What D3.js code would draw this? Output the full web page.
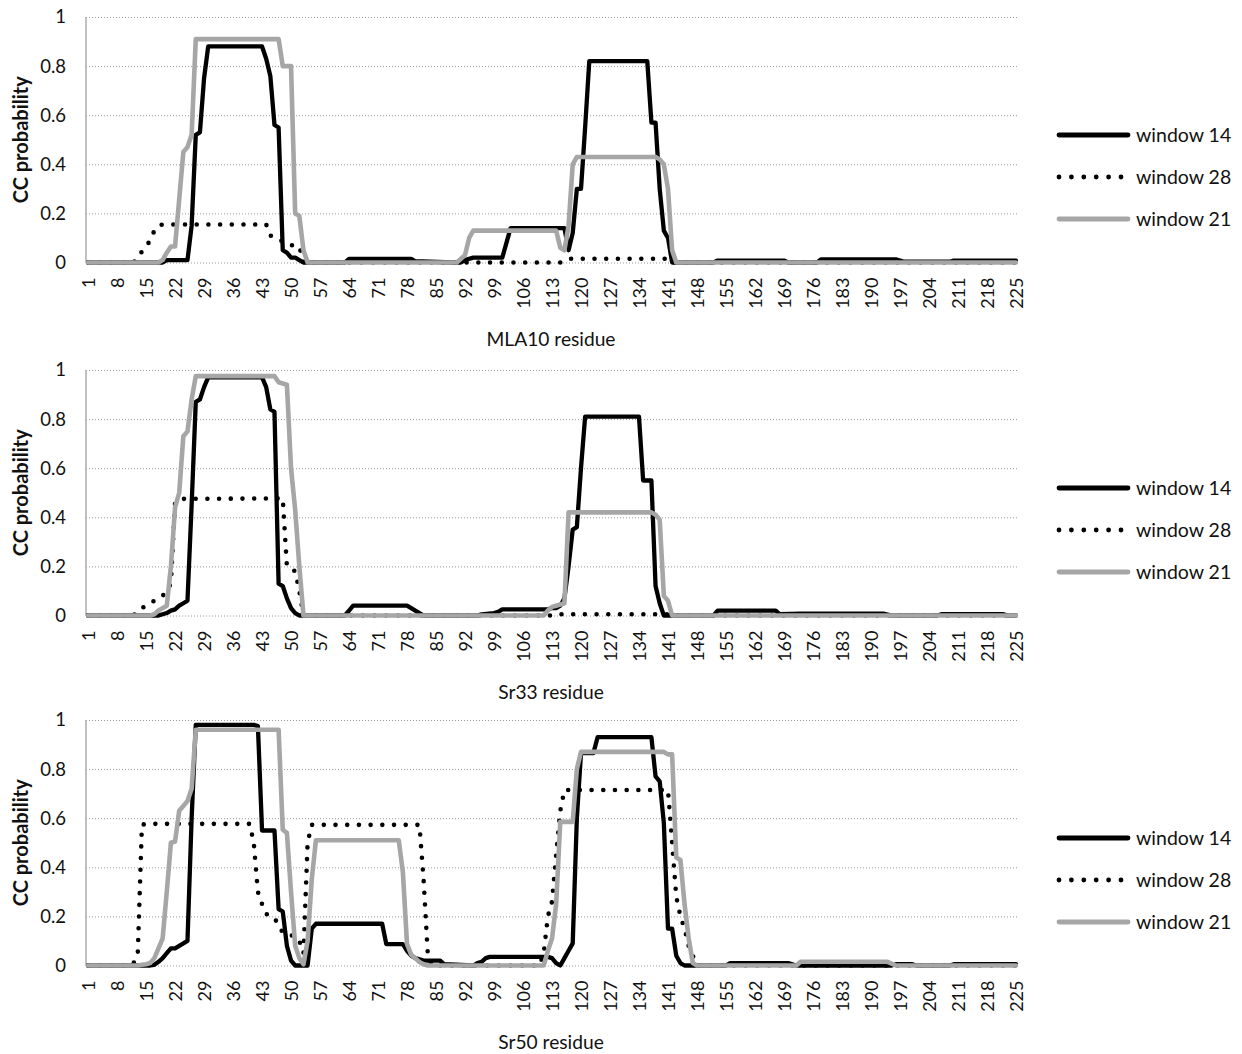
<!DOCTYPE html>
<html><head><meta charset="utf-8">
<script src="https://cdn.jsdelivr.net/npm/d3@7"></script>
<style>body{margin:0;background:#fff}svg{display:block}</style>
</head><body>
<svg id="c" width="1242" height="1054"></svg>
<script>
// ---------- data ----------
const categories = d3.range(1, 226); // residues 1..225
const tickLabels = [1,8,15,22,29,36,43,50,57,64,71,78,85,92,99,106,113,120,127,134,141,148,155,162,169,176,183,190,197,204,211,218,225];
const yTicks = [0,0.2,0.4,0.6,0.8,1];
const panelTitles = ["MLA10 residue","Sr33 residue","Sr50 residue"];
const seriesNames = ["window 14","window 28","window 21"];
const yTitle = "CC probability";

// series as [residue, probability] vertices
const mla10_w14 = [[1,0],[19,0],[20,0.01],[25,0.01],[26,0.15],[27,0.52],[28,0.53],[29,0.75],[30,0.88],[43,0.88],[44,0.83],[45,0.76],[46,0.56],[47,0.55],[48,0.05],[49,0.04],[50,0.02],[51,0.02],[52,0.01],[53,0],[63,0],[64,0.015],[79,0.015],[80,0.005],[89,0],[91,0],[92,0.01],[94,0.02],[101,0.02],[102,0.08],[103,0.14],[116,0.14],[117,0.05],[118,0.12],[119,0.3],[120,0.3],[121,0.55],[122,0.82],[136,0.82],[137,0.57],[138,0.57],[139,0.3],[140,0.13],[141,0.1],[142,0],[152,0],[153,0.008],[169,0.008],[170,0],[177,0],[178,0.013],[196,0.013],[198,0.003],[209,0.003],[210,0.008],[225,0.008]];
const mla10_w28 = [[1,0],[12,0],[13,0.02],[14,0.045],[15,0.065],[16,0.09],[17,0.13],[18,0.15],[19,0.155],[44,0.155],[45,0.11],[46,0.1],[47,0.095],[48,0.085],[49,0.075],[50,0.07],[51,0.07],[52,0.065],[53,0],[115,0],[116,0.01],[117,0.015],[141,0.015],[142,0],[225,0]];
const mla10_w21 = [[1,0],[18,0],[19,0.01],[20,0.04],[21,0.065],[22,0.065],[24,0.45],[25,0.47],[26,0.52],[27,0.91],[47,0.91],[48,0.8],[50,0.8],[51,0.2],[52,0.19],[53,0.05],[54,0],[90,0],[92,0.03],[93,0.1],[94,0.13],[114,0.13],[115,0.06],[116,0.05],[117,0.15],[118,0.4],[119,0.43],[138,0.43],[139,0.42],[140,0.4],[141,0.3],[142,0.05],[143,0],[225,0]];

const sr33_w14 = [[1,0],[18,0],[19,0.005],[20,0.01],[21,0.02],[22,0.025],[23,0.04],[24,0.05],[25,0.06],[26,0.45],[27,0.87],[28,0.88],[29,0.93],[30,0.97],[43,0.97],[44,0.93],[45,0.84],[46,0.83],[47,0.13],[48,0.12],[49,0.07],[50,0.03],[51,0.01],[52,0],[63,0],[64,0.02],[65,0.04],[78,0.04],[79,0.03],[80,0.02],[81,0.01],[82,0],[95,0],[96,0.005],[99,0.01],[100,0.015],[101,0.025],[112,0.025],[113,0.03],[114,0.03],[115,0.04],[116,0.07],[117,0.2],[118,0.35],[119,0.36],[120,0.6],[121,0.81],[134,0.81],[135,0.55],[137,0.55],[138,0.12],[139,0.05],[140,0],[152,0],[153,0.02],[167,0.02],[168,0.005],[173,0.008],[193,0.008],[195,0],[206,0],[207,0.005],[222,0.005],[223,0],[225,0]];
const sr33_w28 = [[1,0],[12,0],[13,0.02],[14,0.03],[15,0.04],[16,0.05],[17,0.06],[18,0.07],[19,0.08],[20,0.1],[21,0.13],[22,0.46],[23,0.475],[48,0.477],[49,0.2],[50,0.19],[51,0.18],[52,0.1],[53,0],[113,0],[114,0.005],[141,0.005],[142,0],[225,0]];
const sr33_w21 = [[1,0],[16,0],[17,0.005],[18,0.02],[19,0.03],[20,0.04],[21,0.2],[22,0.44],[23,0.5],[24,0.73],[25,0.75],[26,0.88],[27,0.975],[46,0.975],[47,0.95],[49,0.94],[50,0.6],[51,0.43],[52,0.2],[53,0],[111,0],[112,0.02],[113,0.035],[114,0.04],[115,0.045],[116,0.05],[117,0.42],[137,0.42],[138,0.41],[139,0.39],[140,0.08],[141,0.06],[142,0],[225,0]];

const sr50_w14 = [[1,0],[16,0],[17,0.003],[18,0.015],[19,0.03],[20,0.05],[21,0.07],[22,0.07],[23,0.08],[24,0.09],[25,0.1],[26,0.6],[27,0.98],[41,0.98],[42,0.975],[43,0.55],[46,0.55],[47,0.23],[48,0.22],[49,0.08],[50,0.02],[51,0],[54,0],[55,0.15],[56,0.17],[72,0.17],[73,0.087],[77,0.087],[78,0.06],[79,0.04],[80,0.03],[81,0.025],[82,0.02],[86,0.02],[87,0.005],[94,0],[95,0.01],[96,0.015],[97,0.03],[98,0.035],[112,0.035],[113,0.03],[114,0.01],[115,0],[116,0.03],[117,0.06],[118,0.09],[119,0.6],[120,0.865],[123,0.865],[124,0.93],[137,0.93],[138,0.77],[139,0.75],[140,0.58],[141,0.15],[142,0.15],[143,0.04],[144,0.01],[145,0],[155,0],[156,0.01],[170,0.01],[172,0],[195,0],[196,0.005],[200,0.005],[201,0],[209,0],[210,0.005],[225,0.005]];
const sr50_w28 = [[1,0],[11,0],[12,0.01],[13,0.05],[14,0.573],[15,0.577],[40,0.577],[41,0.5],[42,0.3],[43,0.25],[44,0.21],[46,0.195],[47,0.16],[48,0.135],[49,0.125],[51,0.12],[52,0.1],[53,0.05],[54,0.5],[55,0.573],[81,0.573],[82,0.35],[83,0.05],[84,0],[110,0],[111,0.05],[112,0.2],[113,0.26],[114,0.45],[115,0.63],[116,0.715],[141,0.715],[142,0.5],[143,0.28],[144,0.2],[145,0.15],[146,0.08],[147,0.04],[148,0],[225,0]];
const sr50_w21 = [[1,0],[13,0],[14,0.003],[15,0.005],[16,0.01],[17,0.03],[18,0.07],[19,0.11],[20,0.3],[21,0.5],[22,0.505],[23,0.63],[24,0.65],[25,0.67],[26,0.72],[27,0.96],[47,0.96],[48,0.553],[49,0.54],[50,0.3],[51,0.08],[52,0.03],[53,0.005],[54,0.1],[55,0.35],[56,0.51],[76,0.51],[77,0.38],[78,0.087],[79,0.044],[80,0.03],[81,0.014],[82,0.005],[83,0],[111,0],[112,0.06],[113,0.11],[114,0.25],[115,0.585],[118,0.585],[119,0.8],[120,0.87],[140,0.87],[141,0.86],[142,0.86],[143,0.44],[144,0.43],[145,0.25],[146,0.11],[147,0.01],[148,0],[172,0],[173,0.015],[194,0.015],[196,0],[225,0]];

// ---------- layout ----------
const FONT = "Lato, 'Open Sans', sans-serif";
const plotLeft = 86, plotRight = 1018, plotH = 245.5;
const panelTops = [17, 370, 720];
const panels = [
  {title: panelTitles[0], series: [mla10_w14, mla10_w28, mla10_w21]},
  {title: panelTitles[1], series: [sr33_w14, sr33_w28, sr33_w21]},
  {title: panelTitles[2], series: [sr50_w14, sr50_w28, sr50_w21]}
];
const styles = [
  {stroke: "#000000", width: 4.3, dash: null, cap: "round"},
  {stroke: "#000000", width: 4.6, dash: "0 11.7", cap: "round"},
  {stroke: "#a6a6a6", width: 4.6, dash: null, cap: "round"}
];

const svg = d3.select("#c");
const x = d3.scalePoint().domain(categories).range([plotLeft, plotRight]).padding(0.5);

panels.forEach((p, pi) => {
  const top = panelTops[pi];
  const y = d3.scaleLinear().domain([0, 1]).range([top + plotH, top]);
  const g = svg.append("g");

  // gridlines
  const grid = g.append("g").attr("transform", `translate(${plotLeft},0)`)
    .call(d3.axisLeft(y).tickValues(yTicks).tickSize(-(plotRight - plotLeft)).tickFormat(""));
  grid.select(".domain").remove();
  grid.selectAll(".tick line").attr("stroke", "#9a9a9a").attr("stroke-width", 1).attr("stroke-dasharray", "1 2");

  // left axis line
  g.append("line").attr("x1", plotLeft).attr("x2", plotLeft)
    .attr("y1", y(1)).attr("y2", y(0)).attr("stroke", "#a6a6a6").attr("stroke-width", 1.4);

  // y tick labels
  const ya = g.append("g").attr("transform", `translate(${plotLeft},0)`)
    .call(d3.axisLeft(y).tickValues(yTicks).tickSize(0).tickPadding(20).tickFormat(d => d3.format("~g")(d)));
  ya.select(".domain").remove();
  ya.selectAll("text").attr("font-family", FONT).attr("font-size", 18.5).attr("fill", "#111");

  // x tick labels
  const xa = g.append("g").attr("transform", `translate(0,${y(0)})`)
    .call(d3.axisBottom(x).tickValues(tickLabels).tickSize(0));
  xa.select(".domain").remove();
  xa.selectAll("text")
    .attr("font-family", FONT).attr("font-size", 18).attr("fill", "#111")
    .attr("transform", "rotate(-90)")
    .attr("text-anchor", "end")
    .attr("x", -15).attr("y", 0).attr("dy", "0.36em");

  // series lines
  const line = d3.line().x(d => x(d[0])).y(d => y(d[1])).curve(d3.curveLinear);
  p.series.forEach((s, si) => {
    const st = styles[si];
    g.append("path").datum(s)
      .attr("d", line)
      .attr("fill", "none")
      .attr("stroke", st.stroke)
      .attr("stroke-width", st.width)
      .attr("stroke-linejoin", "round")
      .attr("stroke-linecap", st.cap)
      .attr("stroke-dasharray", st.dash);
  });

  // axis titles
  g.append("text")
    .attr("transform", `translate(28,${top + plotH / 2}) rotate(-90)`)
    .attr("text-anchor", "middle")
    .attr("font-family", FONT).attr("font-size", 20).attr("font-weight", "bold").attr("fill", "#111")
    .text(yTitle);
  g.append("text")
    .attr("x", (plotLeft + plotRight) / 2 - 1).attr("y", y(0) + 83)
    .attr("text-anchor", "middle")
    .attr("font-family", FONT).attr("font-size", 19.2).attr("fill", "#111")
    .text(p.title);

  // legend
  const legOff = [118, 160, 202];
  seriesNames.forEach((name, si) => {
    const ly = top + legOff[si];
    const st = styles[si];
    g.append("line").attr("x1", 1059).attr("x2", si === 1 ? 1121 : 1128)
      .attr("y1", ly).attr("y2", ly)
      .attr("stroke", st.stroke).attr("stroke-width", 4.8)
      .attr("stroke-linecap", st.cap)
      .attr("stroke-dasharray", si === 1 ? "0 12.4" : null);
    g.append("text").attr("x", 1136).attr("y", ly).attr("dy", "0.35em")
      .attr("font-family", FONT).attr("font-size", 19.5).attr("fill", "#111")
      .text(name);
  });
});
</script>
</body></html>
